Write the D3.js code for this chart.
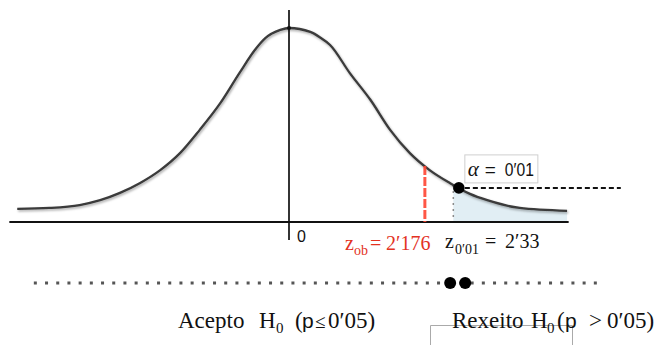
<!DOCTYPE html>
<html>
<head>
<meta charset="utf-8">
<script src="https://d3js.org/d3.v7.min.js"></script>
<style>
  body { margin: 0; background: #fff; }
  svg { display: block; }
  .serif { font-family: "Liberation Serif", "Times New Roman", serif; }
  .sans { font-family: "Liberation Sans", Arial, sans-serif; }
</style>
</head>
<body>
<svg width="654" height="345"></svg>
<script>
  // bell curve: z position and height (density)
  const curveZ = [-3.44, -3.03, -2.65, -2.39, -2.14, -1.89, -1.63, -1.38, -1.13, -0.87, -0.62, -0.43, -0.30, -0.11, 0,
    0.27, 0.39, 0.52, 0.77, 1.03, 1.28, 1.53, 1.78, 2.04, 2.29, 2.51, 2.92, 3.52];
  const curveDensity = [0.027, 0.029, 0.035, 0.045, 0.060, 0.080, 0.107, 0.142, 0.190, 0.245, 0.309, 0.355, 0.379, 0.396, 0.400,
    0.392, 0.381, 0.365, 0.307, 0.252, 0.190, 0.142, 0.107, 0.080, 0.058, 0.045, 0.029, 0.023];

  // where things sit along the (not to scale) z axis
  const axisZ = [-3.54, 3.54];
  const zObsDrawn = 1.72;      // red dashed line, z_ob = 2'176
  const zCritDrawn = 2.08;     // start of rejection tail, z_0'01 = 2'33
  const alphaZ = 2.15;         // black point on the curve
  const alphaLineEnd = 4.2;
  const numberLineZ = [-3.23, 3.95];
  const numberLineDotsZ = [2.04, 2.23];

  const svg = d3.select("svg");

  let x = d3.scaleLinear().domain([-3.5, 3.5]).range([12.5, 565.5]);
  let y = d3.scaleLinear().domain([0, 0.4]).range([222, 28]);
  // piecewise lookup of the curve height
  let curveAt = d3.scaleLinear().domain(curveZ).range(curveDensity);

  let pts = curveZ.map((z, i) => [z, curveDensity[i]]);

  let defs = svg.append("defs");
  let f = defs.append("filter").attr("id", "shadow")
    .attr("filterUnits", "userSpaceOnUse")
    .attr("x", 0).attr("y", 0).attr("width", 654).attr("height", 345);
  f.append("feDropShadow").attr("dx", 1).attr("dy", 1.5).attr("stdDeviation", 1.2)
    .attr("flood-color", "#000").attr("flood-opacity", 0.35);
  let blur = defs.append("filter").attr("id", "soft")
    .attr("filterUnits", "userSpaceOnUse")
    .attr("x", 0).attr("y", 0).attr("width", 654).attr("height", 345);
  blur.append("feGaussianBlur").attr("stdDeviation", 0.5);

  // shaded rejection area
  let tail = pts.filter(d => d[0] > zCritDrawn);
  tail.unshift([zCritDrawn, curveAt(zCritDrawn)]);
  svg.append("path")
    .datum(tail)
    .attr("d", d3.area().x(d => x(d[0])).y0(y(0)).y1(d => y(d[1])).curve(d3.curveMonotoneX))
    .style("fill", "#e1eef4");

  // dotted gray line at the critical value
  svg.append("line")
    .attr("x1", x(zCritDrawn)).attr("x2", x(zCritDrawn))
    .attr("y1", y(curveAt(zCritDrawn))).attr("y2", y(0))
    .style("stroke", "#8a8a8a").style("stroke-width", 1.5)
    .style("stroke-dasharray", "2,4");

  // axes
  svg.append("line")
    .attr("x1", x(axisZ[0])).attr("x2", x(axisZ[1]))
    .attr("y1", y(0)).attr("y2", y(0))
    .style("stroke", "#111").style("stroke-width", 2);
  svg.append("line")
    .attr("x1", x(0)).attr("x2", x(0))
    .attr("y1", y(0.437)).attr("y2", y(-0.037))
    .style("stroke", "#111").style("stroke-width", 1.7);

  // the curve
  svg.append("path")
    .datum(pts)
    .attr("d", d3.line().x(d => x(d[0])).y(d => y(d[1])).curve(d3.curveMonotoneX))
    .style("fill", "none")
    .style("stroke", "#3a3a3a")
    .style("stroke-width", 2.3)
    .attr("filter", "url(#shadow)");
  svg.append("circle")
    .attr("cx", x(0)).attr("cy", y(curveAt(0)))
    .attr("r", 2).style("fill", "#111");

  // observed z (red dashed)
  svg.append("line")
    .attr("x1", x(zObsDrawn)).attr("x2", x(zObsDrawn))
    .attr("y1", y(curveAt(zObsDrawn))).attr("y2", y(0))
    .style("stroke", "#ff4433").style("stroke-width", 3)
    .style("stroke-dasharray", "9,2").style("opacity", 0.9)
    .attr("filter", "url(#soft)");

  // alpha point and dashed line
  let ay = y(curveAt(alphaZ));
  svg.append("line")
    .attr("x1", x(alphaZ) + 6).attr("x2", x(alphaLineEnd))
    .attr("y1", ay).attr("y2", ay)
    .style("stroke", "#111").style("stroke-width", 2)
    .style("stroke-dasharray", "5,3");
  svg.append("circle")
    .attr("cx", x(alphaZ)).attr("cy", ay)
    .attr("r", 5.8).style("fill", "#000");

  // alpha box
  svg.append("rect")
    .attr("x", x(alphaZ) + 6).attr("y", ay - 33)
    .attr("width", 73).attr("height", 28)
    .style("fill", "#fff").style("stroke", "#cfcfcf").style("stroke-width", 1);
  let at = svg.append("text").attr("y", ay - 12).style("font-size", "19px").style("fill", "#111");
  at.append("tspan").attr("class", "serif").attr("x", x(alphaZ) + 9)
    .style("font-style", "italic").style("font-size", "21px").text("α");
  at.append("tspan").attr("class", "sans").attr("x", x(alphaZ) + 26).text("=");
  at.append("tspan").attr("class", "sans").attr("x", x(alphaZ) + 46)
    .attr("textLength", 29).attr("lengthAdjust", "spacingAndGlyphs").text("0′01");

  // zero label
  svg.append("text").attr("class", "sans")
    .attr("x", x(0) + 8).attr("y", 242)
    .style("font-size", "16px").style("fill", "#111").text("0");

  // z_ob label (red)
  let zo = svg.append("text").attr("class", "serif").attr("y", 250)
    .style("font-size", "20px").style("fill", "#e3321f");
  zo.append("tspan").attr("x", 345).text("z");
  zo.append("tspan").attr("x", 354).attr("dy", 5).style("font-size", "14px").text("ob");
  zo.append("tspan").attr("x", 370).attr("dy", -5).text("=");
  zo.append("tspan").attr("x", 386).text("2′176");

  // z critical label
  let zc = svg.append("text").attr("class", "serif").attr("y", 248)
    .style("font-size", "20px").style("fill", "#111");
  zc.append("tspan").attr("x", 445).text("z");
  zc.append("tspan").attr("x", 455).attr("dy", 6).style("font-size", "14px").text("0′01");
  zc.append("tspan").attr("x", 485).attr("dy", -6).text("=");
  zc.append("tspan").attr("x", 505).text("2′33");

  // dotted number line with the two points
  svg.append("line")
    .attr("x1", x(numberLineZ[0])).attr("x2", x(numberLineZ[1]))
    .attr("y1", 283).attr("y2", 283)
    .style("stroke", "#555").style("stroke-width", 3)
    .style("stroke-dasharray", "3,8.2")
    .attr("filter", "url(#soft)");
  svg.selectAll("circle.nl")
    .data(numberLineDotsZ)
    .enter().append("circle")
    .attr("class", "nl")
    .attr("cx", d => x(d)).attr("cy", 283)
    .attr("r", 6).style("fill", "#000")
    .attr("filter", "url(#soft)");

  // bottom box outline
  svg.append("path")
    .attr("d", "M430.5,345 V325.5 H572.5 V345")
    .style("fill", "none").style("stroke", "#aaa").style("stroke-width", 1);

  // decision labels
  let ac = svg.append("text").attr("class", "serif").attr("y", 328)
    .style("font-size", "23px").style("fill", "#111");
  ac.append("tspan").attr("x", 178).text("Acepto");
  ac.append("tspan").attr("x", 259).text("H");
  ac.append("tspan").attr("x", 276).attr("dy", 5).style("font-size", "15px").text("0");
  ac.append("tspan").attr("x", 295).attr("dy", -5).text("(");
  ac.append("tspan").attr("x", 302).attr("class", "sans").style("font-size", "21px").text("p");
  ac.append("tspan").attr("x", 315).style("font-size", "19px").text("≤");
  ac.append("tspan").attr("x", 328).text("0′05)");

  let rx = svg.append("text").attr("class", "serif").attr("y", 328)
    .style("font-size", "23px").style("fill", "#111");
  rx.append("tspan").attr("x", 452).text("Rexeito");
  rx.append("tspan").attr("x", 531).text("H");
  rx.append("tspan").attr("x", 547).attr("dy", 5).style("font-size", "15px").text("0");
  rx.append("tspan").attr("x", 557).attr("dy", -5).text("(");
  rx.append("tspan").attr("x", 565).attr("class", "sans").style("font-size", "21px").text("p");
  rx.append("tspan").attr("x", 589).text(">");
  rx.append("tspan").attr("x", 607).text("0′05)");
</script>
</body>
</html>
